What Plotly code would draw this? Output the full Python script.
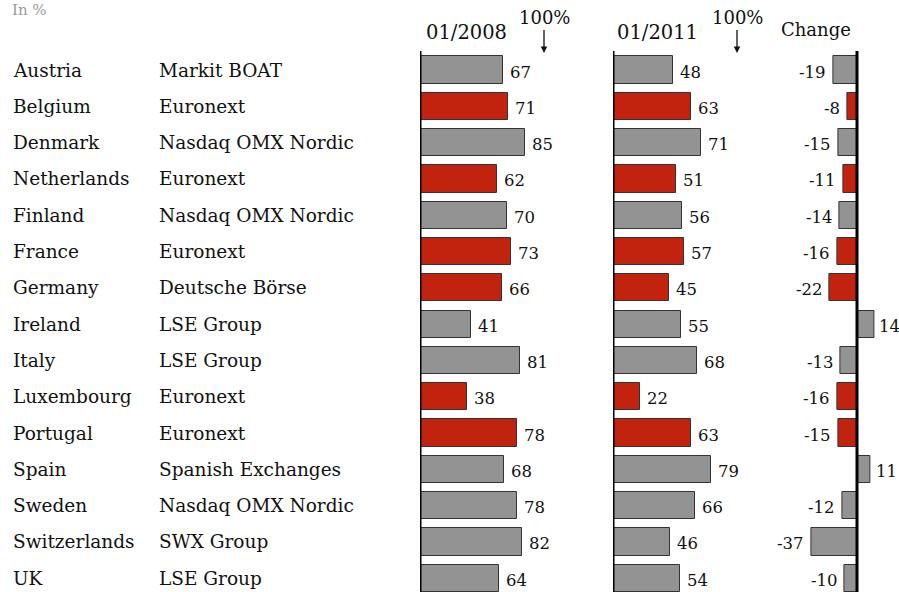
import plotly.graph_objects as go

# data
countries = ["Austria", "Belgium", "Denmark", "Netherlands", "Finland", "France",
             "Germany", "Ireland", "Italy", "Luxembourg", "Portugal", "Spain",
             "Sweden", "Switzerlands", "UK"]
exchanges = ["Markit BOAT", "Euronext", "Nasdaq OMX Nordic", "Euronext",
             "Nasdaq OMX Nordic", "Euronext", "Deutsche Börse", "LSE Group",
             "LSE Group", "Euronext", "Euronext", "Spanish Exchanges",
             "Nasdaq OMX Nordic", "SWX Group", "LSE Group"]
share_2008 = [67, 71, 85, 62, 70, 73, 66, 41, 81, 38, 78, 68, 78, 82, 64]
share_2011 = [48, 63, 71, 51, 56, 57, 45, 55, 68, 22, 63, 79, 66, 46, 54]
change = [-19, -8, -15, -11, -14, -16, -22, 14, -13, -16, -15, 11, -12, -37, -10]

GRAY = "#939393"
RED = "#c1230f"
FONT = "DejaVu Serif"
W, H = 899, 592

colors = [RED if e == "Euronext" or c == "Germany" else GRAY
          for c, e in zip(countries, exchanges)]
rows = list(range(len(countries)))


def px(x):
    return x / W


def py(y):
    return 1 - y / H


fig = go.Figure()
series = [(share_2008, "x"), (share_2011, "x2"), (change, "x3")]
for vals, xa in series:
    fig.add_trace(go.Bar(
        x=vals, y=rows, orientation="h", xaxis=xa, yaxis="y",
        width=0.75, marker=dict(color=colors, line=dict(color="#333333", width=1)),
        showlegend=False, hoverinfo="x",
    ))

annotations = []
for vals, xa in series:
    for i, v in enumerate(vals):
        # the change column sits at the page edge, keep its positive labels tight
        shift = (3 if xa == "x3" else 5) if v >= 0 else -5
        annotations.append(dict(
            x=v, y=i, xref=xa, yref="y", text=str(v), showarrow=False,
            xanchor="left" if v >= 0 else "right", xshift=shift,
            yshift=-2, font=dict(family=FONT, size=16.5, color="#111111"),
        ))

for i, (c, e) in enumerate(zip(countries, exchanges)):
    annotations.append(dict(x=px(11), y=i, xref="paper", yref="y", text=c,
                            showarrow=False, xanchor="left", yanchor="middle",
                            font=dict(family=FONT, size=18.5, color="#111111")))
    annotations.append(dict(x=px(157), y=i, xref="paper", yref="y", text=e,
                            showarrow=False, xanchor="left", yanchor="middle",
                            font=dict(family=FONT, size=18.5, color="#111111")))

dates = dict(family=FONT, size=19.5, color="#111111")
annotations += [
    dict(x=px(10), y=py(10), xref="paper", yref="paper", text="In %", showarrow=False,
         xanchor="left", yanchor="middle",
         font=dict(family=FONT, size=15, color="#9a9a9a")),
    dict(x=px(466), y=py(32), xref="paper", yref="paper", text="01/2008",
         showarrow=False, xanchor="center", yanchor="middle", font=dates),
    dict(x=px(657), y=py(32), xref="paper", yref="paper", text="01/2011",
         showarrow=False, xanchor="center", yanchor="middle", font=dates),
    dict(x=px(816), y=py(30), xref="paper", yref="paper", text="Change",
         showarrow=False, xanchor="center", yanchor="middle",
         font=dict(family=FONT, size=18, color="#111111")),
]
for xa in ["x", "x2"]:
    annotations.append(dict(
        x=100, y=py(53), xref=xa, yref="paper", text="100%", showarrow=True,
        ax=0, ay=-35, arrowhead=2, arrowsize=1, arrowwidth=1.3, arrowcolor="#111111",
        font=dict(family=FONT, size=18, color="#111111"),
    ))

shapes = []
for xa in ["x", "x2", "x3"]:
    shapes.append(dict(type="line", xref=xa, yref="paper", x0=0, x1=0,
                       y0=py(51), y1=0, line=dict(color="black", width=3)))

scale = 1.24  # pixels per percentage point
ax_common = dict(visible=False, fixedrange=True)
fig.update_layout(
    width=W, height=H,
    margin=dict(l=0, r=0, t=0, b=0),
    paper_bgcolor="white", plot_bgcolor="rgba(0,0,0,0)",
    bargap=0,
    xaxis=dict(range=[0, 100], domain=[px(420), px(420 + 100 * scale)], **ax_common),
    xaxis2=dict(range=[0, 100], domain=[px(613), px(613 + 100 * scale)], **ax_common),
    xaxis3=dict(range=[-40, 30], domain=[px(857 - 40 * scale), px(857 + 30 * scale)],
                **ax_common),
    yaxis=dict(range=[14.38, -1.93], domain=[0, 1], **ax_common),
    annotations=annotations,
    shapes=shapes,
)

fig.write_html("out.html", config={"displayModeBar": False},
               post_script="document.body.style.margin='0px';")
